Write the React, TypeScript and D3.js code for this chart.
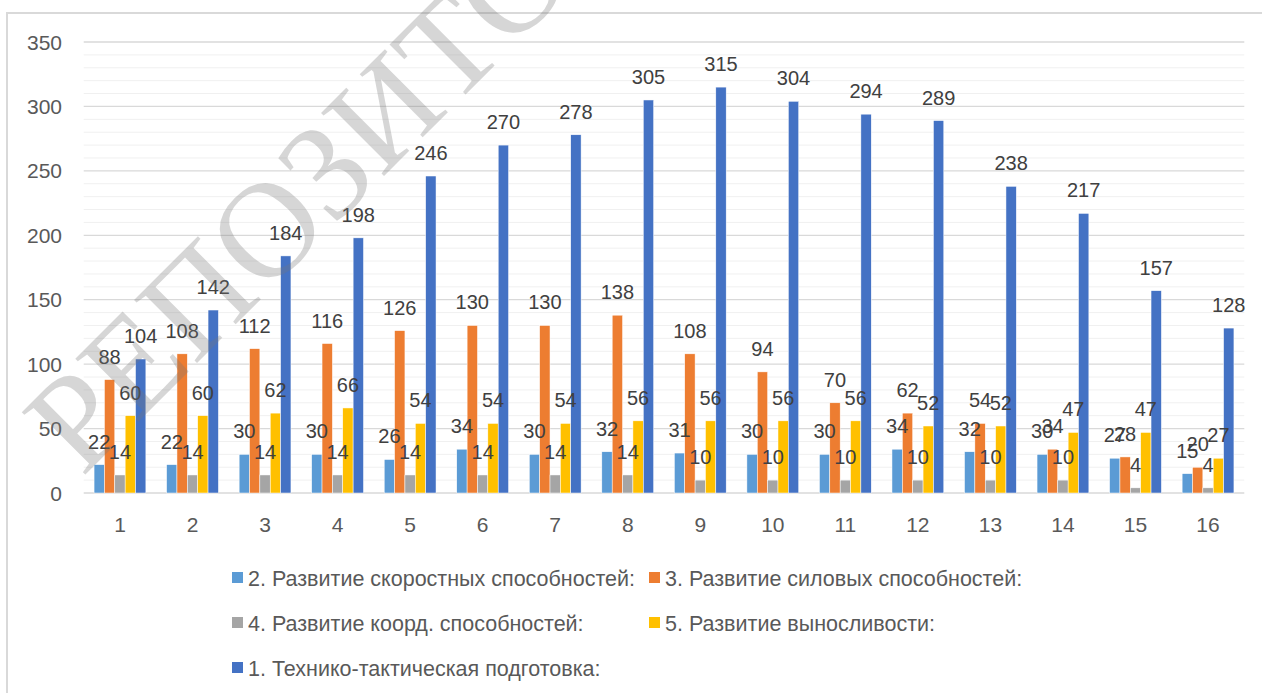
import React, { useEffect } from "react";
import * as d3 from "d3";

const categories = ["1","2","3","4","5","6","7","8","9","10","11","12","13","14","15","16"];
const speed = [22,22,30,30,26,34,30,32,31,30,30,34,32,30,27,15];
const strength = [88,108,112,116,126,130,130,138,108,94,70,62,54,34,28,20];
const coord = [14,14,14,14,14,14,14,14,10,10,10,10,10,10,4,4];
const endurance = [60,60,62,66,54,54,54,56,56,56,56,52,52,47,47,27];
const technical = [104,142,184,198,246,270,278,305,315,304,294,289,238,217,157,128];
const yTicks = [0,50,100,150,200,250,300,350];

const seriesNames = [
  "2. Развитие скоростных способностей:",
  "3. Развитие силовых способностей:",
  "4. Развитие коорд. способностей:",
  "5. Развитие выносливости:",
  "1. Технико-тактическая подготовка:",
];
const seriesColors = ["#5B9BD5", "#ED7D31", "#A5A5A5", "#FFC000", "#4472C4"];
const seriesValues = [speed, strength, coord, endurance, technical];

const W = 1262, H = 693;
const FONT = "'Liberation Sans', Arial, sans-serif";

export default function App() {
  useEffect(() => {
    document.body.style.margin = "0";
  }, []);

  const x = d3.scaleBand<string>().domain(categories).range([83.7, 1244.3]).paddingInner(0).paddingOuter(0);
  const y = d3.scaleLinear().domain([0, 350]).range([493, 42]);
  const bw = x.bandwidth() / 7;
  const minor = d3.range(0, 351, 10);

  const legendPos = [
    [232, 578], [649, 578], [232, 623], [649, 623], [232, 668],
  ];

  return (
    <svg width={W} height={H} style={{ display: "block", background: "#fff" }} fontFamily={FONT}>
      <rect x={7} y={13} width={1270} height={700} fill="#fff" stroke="#d9d9d9" strokeWidth={2} />
      {minor.map((v) => (
        <line key={"m" + v} x1={83.7} x2={1244.3} y1={y(v)} y2={y(v)}
          stroke={v % 50 === 0 ? "#d9d9d9" : "#f0f0f0"} strokeWidth={v % 50 === 0 ? 1.3 : 1} />
      ))}
      {yTicks.map((v) => (
        <text key={"t" + v} x={62} y={y(v)} dy="0.36em" textAnchor="end" fontSize={21} fill="#595959">{v}</text>
      ))}
      {categories.map((c) => (
        <text key={"c" + c} x={(x(c) as number) + x.bandwidth() / 2} y={532} textAnchor="middle" fontSize={21} fill="#595959">{c}</text>
      ))}
      {seriesValues.map((vals, si) => (
        <g key={"s" + si}>
          {vals.map((v, i) => {
            const bx = (x(categories[i]) as number) + bw + si * bw;
            return (
              <rect key={i} x={bx} y={y(v)} width={bw} height={y(0) - y(v)} fill={seriesColors[si]} stroke="#fff" strokeWidth={0.5} />
            );
          })}
        </g>
      ))}
      {seriesValues.map((vals, si) => (
        <g key={"l" + si}>
          {vals.map((v, i) => {
            const bx = (x(categories[i]) as number) + bw + si * bw + bw / 2;
            return (
              <text key={i} x={bx} y={y(v) - 16} textAnchor="middle" fontSize={20} fill="#404040">{v}</text>
            );
          })}
        </g>
      ))}
      {seriesNames.map((n, i) => (
        <g key={"lg" + i}>
          <rect x={legendPos[i][0]} y={legendPos[i][1] - 6} width={11} height={11} fill={seriesColors[i]} />
          <text x={legendPos[i][0] + 16} y={legendPos[i][1]} dy="0.36em" fontSize={21.5} fill="#595959">{n}</text>
        </g>
      ))}
      <text x={82} y={478} transform="rotate(-45 82 478)" fontFamily="'Liberation Serif', 'Times New Roman', serif"
        fontSize={136} fill="rgba(120,120,120,0.3)">РЕПОЗИТОРИЙ</text>
    </svg>
  );
}
